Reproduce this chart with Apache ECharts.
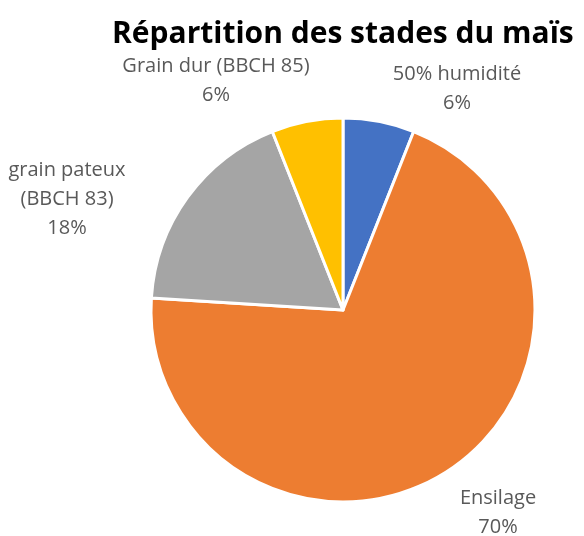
<!DOCTYPE html>
<html>
<head>
<meta charset="utf-8">
<script src="https://cdn.jsdelivr.net/npm/echarts@6/dist/echarts.min.js"></script>
<style>
  html, body { margin: 0; padding: 0; background: #fff; }
  #chart { width: 584px; height: 536px; }
</style>
</head>
<body>
<div id="chart"></div>
<script>
// données
const categories = ['50% humidité', 'Ensilage', 'grain pateux (BBCH 83)', 'Grain dur (BBCH 85)']
const values = [6, 70, 18, 6]
const colors = ['#4472C4', '#ED7D31', '#A5A5A5', '#FFC000']

// position des étiquettes (centre du bloc de texte)
const labelPos = [[457, 89], [498, 513], [67, 199], [216, 81]]

const drawEcharts = (option, id) => {
  let dom = document.getElementById(id)
  let echart = echarts.init(dom)
  option && echart.setOption(option)
}

const option = {
  animation: false,
  title: {
    text: 'Répartition des stades du maïs',
    left: 107,
    top: 14,
    textStyle: { fontFamily: 'Open Sans', fontWeight: 'bold', fontSize: 30, color: '#000' }
  },
  series: [{
    type: 'pie',
    center: [343, 310],
    radius: 192,
    startAngle: 90,
    clockwise: true,
    itemStyle: { borderColor: '#fff', borderWidth: 3 },
    label: {
      show: true,
      fontFamily: 'Open Sans',
      fontSize: 20,
      lineHeight: 29,
      color: '#595959',
      align: 'center',
      formatter: p => {
        const name = p.dataIndex === 2 ? p.name.replace(' (', '\n(') : p.name
        return name + '\n' + Math.round(p.percent) + '%'
      }
    },
    labelLine: { show: false },
    labelLayout: p => ({
      x: labelPos[p.dataIndex][0],
      y: labelPos[p.dataIndex][1],
      align: 'center',
      verticalAlign: 'middle'
    }),
    data: categories.map((c, i) => ({ name: c, value: values[i], itemStyle: { color: colors[i] } }))
  }]
}

drawEcharts(option, 'chart')
</script>
</body>
</html>
